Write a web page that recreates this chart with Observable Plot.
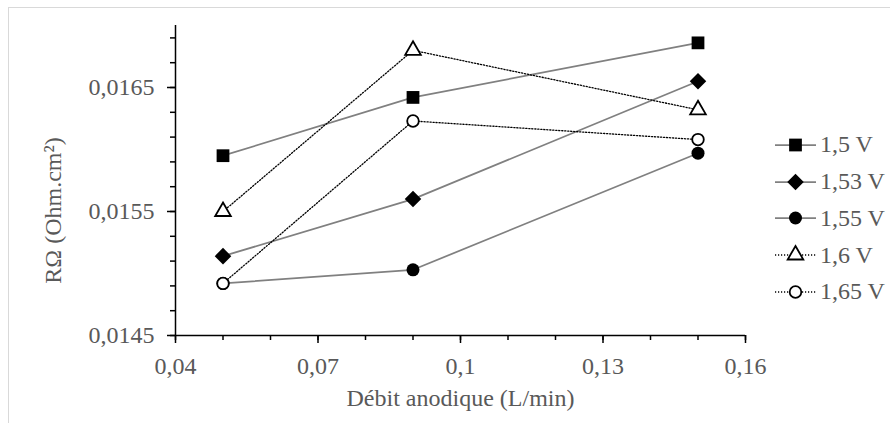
<!DOCTYPE html>
<html><head><meta charset="utf-8">
<script src="https://cdn.jsdelivr.net/npm/d3@7"></script>
<script src="https://cdn.jsdelivr.net/npm/@observablehq/plot@0.6"></script>
<style>
body{margin:0;background:#fff;}
#wrap{position:relative;width:890px;height:423px;overflow:hidden;font-family:"Liberation Serif","Times New Roman",serif;}
#border{position:absolute;left:8px;top:7px;width:900px;height:430px;border-left:1px solid #d9d9d9;border-top:1px solid #d9d9d9;}
#chart{position:absolute;left:0;top:0;}
#legend{position:absolute;left:773px;top:126.6px;}
.item{height:36.7px;display:flex;align-items:center;color:#595959;font-size:24px;white-space:nowrap;}
.item svg{margin-right:3px;}
</style></head>
<body><div id="wrap"><div id="border"></div><div id="chart"></div><div id="legend"></div></div>
<script>
// ---- data ----
const debits = [0.05, 0.09, 0.15];
const seriesNames = ["1,5 V", "1,53 V", "1,55 V", "1,6 V", "1,65 V"];
const r1_5  = [0.01595, 0.01642, 0.01686];
const r1_53 = [0.01514, 0.01560, 0.01655];
const r1_55 = [0.01492, 0.01503, 0.01597];
const r1_6  = [0.01550, 0.01680, 0.01632];
const r1_65 = [0.01492, 0.01623, 0.01608];
const xTicks = [0.04, 0.07, 0.1, 0.13, 0.16];
const xMinorTicks = [0.04, 0.05, 0.06, 0.07, 0.08, 0.09, 0.1, 0.11, 0.12, 0.13, 0.14, 0.15, 0.16];
const yTicks = [0.0145, 0.0155, 0.0165];
const yMinorTicks = [0.0145, 0.0147, 0.0149, 0.0151, 0.0153, 0.0155, 0.0157, 0.0159, 0.0161, 0.0163, 0.0165, 0.0167, 0.0169];
const xTitle = "Débit anodique (L/min)";
const yTitle = "RΩ (Ohm.cm²)";

const values = [r1_5, r1_53, r1_55, r1_6, r1_65];
const rows = seriesNames.map((s, i) => debits.map((x, j) => ({s, x, y: values[i][j]})));

const diamond = {draw(ctx, size){ const h = Math.sqrt(size/2); ctx.moveTo(0,-h); ctx.lineTo(h,0); ctx.lineTo(0,h); ctx.lineTo(-h,0); ctx.closePath(); }};
const styles = [
  {symbol: d3.symbolSquare, r: 7.2, fill: "black", stroke: "none", sw: 0, line: "#808080", dash: null, lw: 1.75},
  {symbol: diamond, r: 6.6, fill: "black", stroke: "none", sw: 0, line: "#808080", dash: null, lw: 1.75},
  {symbol: d3.symbolCircle, r: 6.5, fill: "black", stroke: "none", sw: 0, line: "#808080", dash: null, lw: 1.75},
  {symbol: d3.symbolTriangle, r: 5.8, fill: "white", stroke: "black", sw: 1.8, line: "black", dash: "1.2,1.8", lw: 1.3},
  {symbol: d3.symbolCircle, r: 5.8, fill: "white", stroke: "black", sw: 1.8, line: "black", dash: "1.2,1.8", lw: 1.3}
];

const fmt = d => String(d).replace(".", ",");
const font = {fontFamily: '"Liberation Serif","Times New Roman",serif', fontSize: "24px"};

const marks = [];
rows.forEach((data, i) => {
  const st = styles[i];
  marks.push(Plot.line(data, {x: "x", y: "y", stroke: st.line, strokeWidth: st.lw, strokeDasharray: st.dash}));
  marks.push(Plot.dot(data, {x: "x", y: "y", symbol: st.symbol, r: st.r, fill: st.fill, stroke: st.stroke, strokeWidth: st.sw}));
});

const chart = Plot.plot({
  width: 890, height: 423,
  marginLeft: 175, marginRight: 145, marginTop: 25, marginBottom: 88,
  style: {...font, background: "transparent", overflow: "visible"},
  x: {domain: [0.04, 0.16], label: null},
  y: {domain: [0.0145, 0.017], label: null},
  marks: [
    Plot.axisX(xMinorTicks, {tickSize: 5, stroke: "black", strokeWidth: 1.5, fill: "none", label: null}),
    Plot.axisX(xTicks, {tickSize: 8, tickPadding: 13, tickFormat: fmt, stroke: "black", strokeWidth: 1.5, fill: "#595959", label: null}),
    Plot.axisY(yMinorTicks, {tickSize: 5, stroke: "black", strokeWidth: 1.5, fill: "none", label: null}),
    Plot.axisY(yTicks, {tickSize: 8, tickPadding: 13, tickFormat: fmt, stroke: "black", strokeWidth: 1.5, fill: "#595959", label: null}),
    Plot.ruleX([0.04], {stroke: "black", strokeWidth: 1.5}),
    Plot.ruleY([0.0145], {stroke: "black", strokeWidth: 1.5}),
    Plot.text([xTitle], {text: d => d, frameAnchor: "bottom", dy: 70, fill: "#595959", fontSize: 24}),
    Plot.text([yTitle], {text: d => d, frameAnchor: "left", textAnchor: "middle", rotate: -90, dx: -122, dy: 30, fill: "#595959", fontSize: 24}),
    ...marks
  ]
});
document.getElementById("chart").appendChild(chart);

// ---- legend ----
const legend = d3.select("#legend");
seriesNames.forEach((name, i) => {
  const st = styles[i];
  const item = legend.append("div").attr("class", "item");
  const svg = item.append("svg").attr("width", 44).attr("height", 24);
  svg.append("line").attr("x1", 2).attr("x2", 43).attr("y1", 12).attr("y2", 12)
    .attr("stroke", st.line).attr("stroke-width", st.lw).attr("stroke-dasharray", st.dash);
  svg.append("path").attr("d", d3.symbol(st.symbol, Math.PI * st.r * st.r)())
    .attr("transform", "translate(22.5,12)")
    .attr("fill", st.fill).attr("stroke", st.stroke).attr("stroke-width", st.sw);
  item.append("span").text(name);
});
</script>
</body></html>
